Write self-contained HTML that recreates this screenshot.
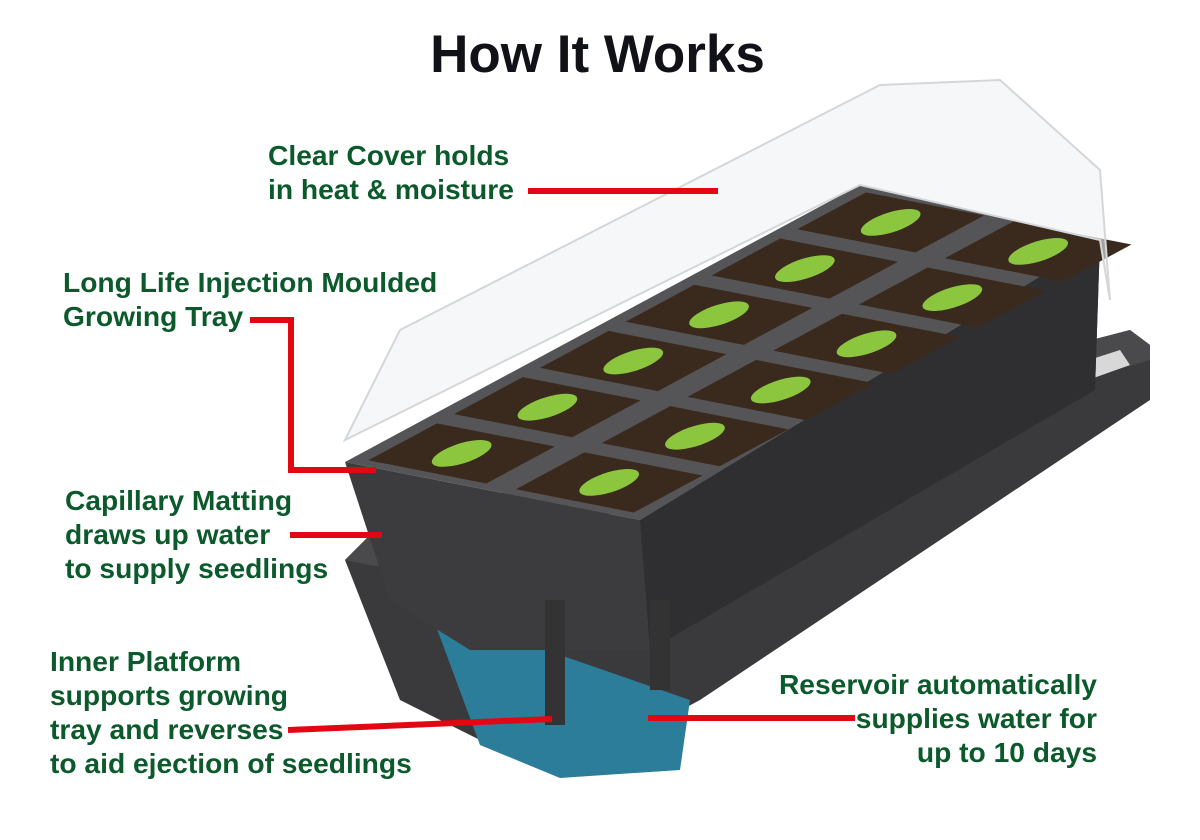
<!DOCTYPE html>
<html><head><meta charset="utf-8"><style>
html,body{margin:0;padding:0;background:#fff}
#c{position:relative;width:1200px;height:840px;overflow:hidden;font-family:"Liberation Sans",Arial,sans-serif}
.t{position:absolute;color:#0c5a2c;font-weight:bold;font-size:28.2px;line-height:34px;white-space:nowrap}
h1{position:absolute;margin:0;left:0;width:1195px;text-align:center;top:24px;font-size:53px;font-weight:bold;color:#111118}
</style></head><body><div id="c">
<svg width="1200" height="840" style="position:absolute;left:0;top:0">
<polygon points="345,560 380,525 1130,330 1150,345 1150,400 700,700 560,775 480,740 400,700" fill="#3a3a3c"/>
<polygon points="430,610 690,700 680,770 560,778 480,745" fill="#2b7d9a"/>
<polygon points="345,560 380,525 1130,330 1150,345 1150,360 420,575" fill="#4a4a4c"/>
<polygon points="420,575 1120,350 1130,365 640,540 430,600" fill="#d8d8d8"/>
<polygon points="345,462 640,520 1100,240 1095,390 650,650 470,650 390,600" fill="#3c3c3e"/>
<polygon points="640,520 1100,240 1095,390 650,650" fill="#2f2f31"/>
<rect x="545" y="600" width="20" height="125" fill="#333"/>
<rect x="650" y="600" width="20" height="90" fill="#333"/>
<polygon points="345,462 860,185 1100,240 640,520" fill="#555557"/>
<g transform="matrix(85.8,-46.2,147.5,29,345,462)">
<g fill="#3a2a1e">
<rect x="0.1" y="0.1" width="0.8" height="0.8"/><rect x="1.1" y="0.1" width="0.8" height="0.8"/><rect x="2.1" y="0.1" width="0.8" height="0.8"/><rect x="3.1" y="0.1" width="0.8" height="0.8"/><rect x="4.1" y="0.1" width="0.8" height="0.8"/><rect x="5.1" y="0.1" width="0.8" height="0.8"/>
<rect x="0.1" y="1.1" width="0.8" height="0.8"/><rect x="1.1" y="1.1" width="0.8" height="0.8"/><rect x="2.1" y="1.1" width="0.8" height="0.8"/><rect x="3.1" y="1.1" width="0.8" height="0.8"/><rect x="4.1" y="1.1" width="0.8" height="0.8"/><rect x="5.1" y="1.1" width="0.8" height="0.8"/>
</g>
<g fill="#8cc63f">
<ellipse cx="0.5" cy="0.5" rx="0.28" ry="0.12"/><ellipse cx="1.5" cy="0.5" rx="0.28" ry="0.12"/><ellipse cx="2.5" cy="0.5" rx="0.28" ry="0.12"/><ellipse cx="3.5" cy="0.5" rx="0.28" ry="0.12"/><ellipse cx="4.5" cy="0.5" rx="0.28" ry="0.12"/><ellipse cx="5.5" cy="0.5" rx="0.28" ry="0.12"/>
<ellipse cx="0.5" cy="1.5" rx="0.28" ry="0.12"/><ellipse cx="1.5" cy="1.5" rx="0.28" ry="0.12"/><ellipse cx="2.5" cy="1.5" rx="0.28" ry="0.12"/><ellipse cx="3.5" cy="1.5" rx="0.28" ry="0.12"/><ellipse cx="4.5" cy="1.5" rx="0.28" ry="0.12"/><ellipse cx="5.5" cy="1.5" rx="0.28" ry="0.12"/>
</g></g>
<path d="M345,440 L400,330 L880,85 L1000,80 L1100,170 L1110,300 L1100,240 L860,185 Z" fill="#f0f1f3" fill-opacity="0.6" stroke="#d4d7da" stroke-width="2"/>
<g stroke="#e30613" stroke-width="6" fill="none">
<line x1="528" y1="191" x2="718" y2="191"/>
<polyline points="250,320 291,320 291,470 376,470"/>
<line x1="290" y1="535" x2="382" y2="535"/>
<line x1="288" y1="730" x2="552" y2="719"/>
<line x1="648" y1="718" x2="855" y2="718"/>
</g>
</svg>
<h1>How It Works</h1>
<div class="t" style="left:268px;top:138px">Clear Cover holds<br>in heat &amp; moisture</div>
<div class="t" style="left:63px;top:265px">Long Life Injection Moulded<br>Growing Tray</div>
<div class="t" style="left:65px;top:483px">Capillary Matting<br>draws up water<br>to supply seedlings</div>
<div class="t" style="left:50px;top:644px">Inner Platform<br>supports growing<br>tray and reverses<br>to aid ejection of seedlings</div>
<div class="t" style="right:103px;top:667px;text-align:right">Reservoir automatically<br>supplies water for<br>up to 10 days</div>
</div></body></html>
